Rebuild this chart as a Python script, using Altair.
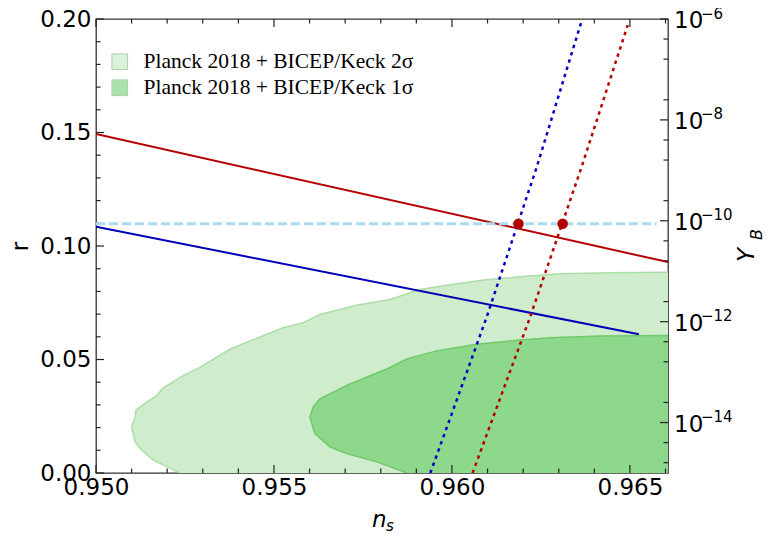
import altair as alt
import pandas as pd

# ---------------- data ----------------
X_MIN, X_MAX = 0.950, 0.96607
R_MIN, R_MAX = 0.0, 0.20
YB_MIN, YB_MAX = 1e-15, 1e-6

# Planck 2018 + BICEP/Keck 2 sigma region: left boundary (ns, r), region extends to right edge
light_ns = [0.95236, 0.95199, 0.95161, 0.95128, 0.95110, 0.95100, 0.95110, 0.95112, 0.95138,
            0.95171, 0.95189, 0.95245, 0.95292, 0.95376, 0.95433, 0.95526, 0.95582, 0.95629,
            0.95732, 0.95826, 0.95910, 0.96004, 0.96097, 0.96191, 0.96303, 0.96444, 0.96607]
light_r = [0.0, 0.0028, 0.0057, 0.0101, 0.0137, 0.0203, 0.0246, 0.0276, 0.0308,
           0.0341, 0.0375, 0.0429, 0.0465, 0.0545, 0.0582, 0.0640, 0.0662, 0.0698,
           0.0739, 0.0764, 0.0808, 0.0832, 0.0851, 0.0864, 0.0878, 0.0882, 0.0884]

# 1 sigma region
dark_ns = [0.95874, 0.95789, 0.95704, 0.95657, 0.95615, 0.95601, 0.95610, 0.95629, 0.95713,
           0.95817, 0.95873, 0.95957, 0.96069, 0.96182, 0.96275, 0.96416, 0.96607]
dark_r = [0.0, 0.0049, 0.0086, 0.0115, 0.0174, 0.0246, 0.0290, 0.0327, 0.0392,
          0.0458, 0.0502, 0.0538, 0.0567, 0.0585, 0.0596, 0.0604, 0.0606]

# solid r(ns) lines
red_ns = [0.950, 0.96607]
red_r = [0.1493, 0.0929]
blue_ns = [0.950, 0.96525]
blue_r = [0.1085, 0.0611]

# observed baryon asymmetry (dashed) and Y_B(ns) dotted curves
yb_obs = 8.7e-11
obs_ns = [0.950, 0.96575]
blue_dot_ns = [0.95939, 0.95946, 0.96097, 0.96238, 0.96366]
blue_dot_yb = [1.0e-15, 1.35e-15, 1.2e-12, 1.15e-9, 1.0e-6]
red_dot_ns = [0.96058, 0.96219, 0.96364, 0.96494]
red_dot_yb = [1.0e-15, 1.2e-12, 1.15e-9, 7.6e-7]
pts_ns = [0.96187, 0.96311]

legend_labels = ["Planck 2018 + BICEP/Keck 2σ", "Planck 2018 + BICEP/Keck 1σ"]

# ticks
x_major = [0.950, 0.955, 0.960, 0.965]
x_minor = [0.951, 0.952, 0.953, 0.954, 0.956, 0.957, 0.958, 0.959,
           0.961, 0.962, 0.963, 0.964, 0.966]
r_major = [0.0, 0.05, 0.10, 0.15, 0.20]
r_minor = [0.01, 0.02, 0.03, 0.04, 0.06, 0.07, 0.08, 0.09, 0.11, 0.12, 0.13, 0.14,
           0.16, 0.17, 0.18, 0.19]
yb_major = [1e-6, 1e-8, 1e-10, 1e-12, 1e-14]
yb_exp = ["−6", "−8", "−10", "−12", "−14"]
yb_minor = [4.0e-7, 1.6e-7, 2.5e-8, 4.0e-9, 1.6e-9, 2.5e-10, 4.0e-11, 1.6e-11, 2.5e-12,
            4.0e-13, 1.6e-13, 2.5e-14, 4.0e-15, 1.6e-15]

# ---------------- layout / styles ----------------
W, H = 572, 454
FONT = "DejaVu Sans"
TICK_COLOR = "#222222"

XS = alt.Scale(domain=[X_MIN, X_MAX], nice=False, zero=False)
RS = alt.Scale(domain=[R_MIN, R_MAX], nice=False, zero=False)
YBS = alt.Scale(type="log", domain=[YB_MIN, YB_MAX], nice=False)

XAX = alt.Axis(values=x_major, format=".3f", title=None, ticks=False, tickSize=0, domain=False,
               grid=False, labelPadding=3, labelFlush=False, labelOverlap=False,
               labelFontSize=23, labelFont=FONT, labelColor="black")
RAX = alt.Axis(values=r_major, format=".2f", title="r", ticks=False, tickSize=0, domain=False,
               grid=False, labelPadding=5, labelFlush=False, labelOverlap=False,
               labelFontSize=23, labelFont=FONT, labelColor="black",
               titleFont=FONT, titleFontSize=23, titleFontWeight="normal", titleColor="black",
               titlePadding=7)


def X(field="ns"):
    return alt.X(f"{field}:Q", scale=XS, axis=XAX)


def R(field="r"):
    return alt.Y(f"{field}:Q", scale=RS, axis=RAX)


def YB(field="yb"):
    return alt.Y(f"{field}:Q", scale=YBS, axis=None)


fill_scale = alt.Scale(domain=legend_labels, range=["#cfedcd", "#8ed88c"])
legend = alt.Legend(title=None, orient="none", legendX=13, legendY=32, symbolType="square",
                    symbolSize=246, symbolStrokeColor="#8fbf8b", symbolStrokeWidth=1,
                    symbolOpacity=0.75, labelFont="Liberation Serif", labelFontSize=21.5,
                    labelOffset=13, rowPadding=3, padding=0, labelColor="black", labelLimit=0)

light_df = pd.DataFrame({"ns": light_ns, "r": light_r, "region": legend_labels[0],
                         "edge": X_MAX, "i": list(range(len(light_ns)))})
dark_df = pd.DataFrame({"ns": dark_ns, "r": dark_r, "region": legend_labels[1],
                        "edge": X_MAX, "i": list(range(len(dark_ns)))})


def region_area(df):
    return alt.Chart(df).mark_area(orient="horizontal", clip=True, opacity=1).encode(
        x=X(), x2="edge:Q", y=R(),
        fill=alt.Fill("region:N", scale=fill_scale, legend=legend))


def region_edge(df, color):
    return alt.Chart(df).mark_line(clip=True, color=color, strokeWidth=1.5).encode(
        x=X(), y=R(), order="i:Q")


red_line = alt.Chart(pd.DataFrame({"ns": red_ns, "r": red_r})).mark_line(
    color="#b40000", strokeWidth=2, clip=True).encode(x=X(), y=R())
blue_line = alt.Chart(pd.DataFrame({"ns": blue_ns, "r": blue_r})).mark_line(
    color="#0000b4", strokeWidth=2, clip=True).encode(x=X(), y=R())


# tick marks (inward)
def xticks(vals, length, top):
    df = pd.DataFrame({"ns": vals})
    if top:
        return alt.Chart(df).mark_rule(color=TICK_COLOR, strokeWidth=1.2).encode(
            x=X(), y=alt.value(0), y2=alt.value(length))
    return alt.Chart(df).mark_rule(color=TICK_COLOR, strokeWidth=1.2).encode(
        x=X(), y=alt.value(H), y2=alt.value(H - length))


def rticks(vals, length):
    return alt.Chart(pd.DataFrame({"r": vals})).mark_rule(color=TICK_COLOR, strokeWidth=1.2).encode(
        y=R(), x=alt.value(0), x2=alt.value(length))


def ybticks(vals, length):
    return alt.Chart(pd.DataFrame({"yb": vals})).mark_rule(color=TICK_COLOR, strokeWidth=1.2).encode(
        y=YB(), x=alt.value(W), x2=alt.value(W - length))


one = pd.DataFrame({"a": [0]})


def label_text(txt, x, y, size, italic=False, angle=0):
    kw = dict(font=FONT, fontSize=size, color="black", align="left", baseline="alphabetic")
    if italic:
        kw["fontStyle"] = "italic"
    if angle:
        kw["angle"] = angle
    return alt.Chart(one).mark_text(**kw).encode(
        x=alt.value(x), y=alt.value(y), text=alt.value(txt))


left = alt.layer(
    region_area(light_df),
    region_area(dark_df),
    region_edge(light_df, "#abdea7"),
    region_edge(dark_df, "#6fca6c"),
    red_line,
    blue_line,
    xticks(x_major, 8, False), xticks(x_minor, 4.5, False),
    xticks(x_major, 8, True), xticks(x_minor, 4.5, True),
    rticks(r_major, 8), rticks(r_minor, 4.5),
    label_text("n", 276, 508, 23, italic=True),
    label_text("s", 290, 512, 15, italic=True),
    label_text("Y", 658, 243, 23, italic=True, angle=270),
    label_text("B", 666, 221, 16, italic=True, angle=270),
)

obs_line = alt.Chart(pd.DataFrame({"ns": obs_ns, "yb": [yb_obs, yb_obs]})).mark_line(
    color="#a9dcf0", strokeWidth=3, strokeDash=[9, 4], clip=True).encode(x=X(), y=YB())
blue_dotted = alt.Chart(pd.DataFrame({"ns": blue_dot_ns, "yb": blue_dot_yb,
                                      "i": list(range(len(blue_dot_ns)))})).mark_line(
    color="#0000c8", strokeWidth=2.5, strokeDash=[3.4, 4.2], clip=True).encode(
    x=X(), y=YB(), order="i:Q")
red_dotted = alt.Chart(pd.DataFrame({"ns": red_dot_ns, "yb": red_dot_yb,
                                     "i": list(range(len(red_dot_ns)))})).mark_line(
    color="#b40000", strokeWidth=2.5, strokeDash=[3.4, 4.2], clip=True).encode(
    x=X(), y=YB(), order="i:Q")
dots = alt.Chart(pd.DataFrame({"ns": pts_ns, "yb": [yb_obs, yb_obs]})).mark_circle(
    size=110, color="#b00000", opacity=1).encode(x=X(), y=YB())

yb_lab_df = pd.DataFrame({"yb": yb_major, "base": ["10"] * len(yb_major), "exp": yb_exp})
yb_base = alt.Chart(yb_lab_df).mark_text(font=FONT, fontSize=23, color="black", align="left",
                                         baseline="middle", dy=2).encode(
    y=YB(), x=alt.value(W + 6), text="base:N")
yb_sup = alt.Chart(yb_lab_df).mark_text(font=FONT, fontSize=15, color="black", align="left",
                                        baseline="middle", dy=-5.5).encode(
    y=YB(), x=alt.value(W + 33), text="exp:N")

right = alt.layer(obs_line, blue_dotted, red_dotted, dots,
                  ybticks(yb_major, 8), ybticks(yb_minor, 4.5), yb_base, yb_sup)

chart = alt.layer(left, right).resolve_scale(y="independent").properties(
    width=W, height=H,
    padding={"left": 88, "top": 11, "right": 96, "bottom": 62},
    autosize=alt.AutoSizeParams(type="none"),
).configure_view(stroke="#333333", strokeWidth=1.3)

chart.save("out.html", embed_options={"renderer": "svg", "actions": False})
